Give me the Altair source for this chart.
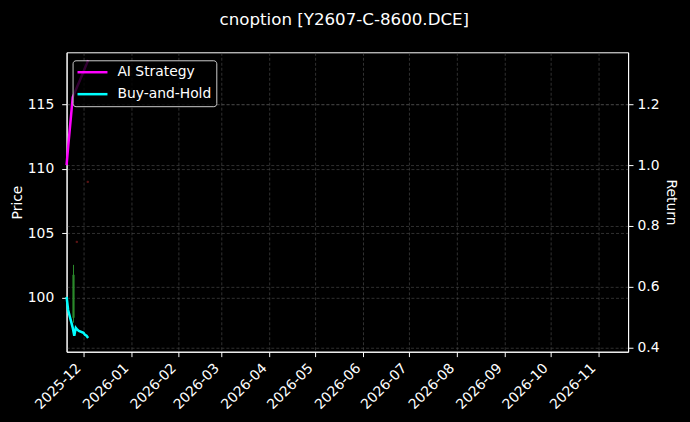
import altair as alt
import pandas as pd
import jinja2

# ---------------- data ----------------
line_dates = [
    "2025-11-20T00:00:00", "2025-11-21T00:00:00", "2025-11-24T00:00:00",
    "2025-11-25T00:00:00", "2025-11-26T00:00:00", "2025-11-27T00:00:00",
    "2025-11-28T00:00:00", "2025-12-01T00:00:00", "2025-12-02T00:00:00",
    "2025-12-03T00:00:00", "2025-12-04T00:00:00",
]
ai_strategy = [1.000, 1.059, 1.223, 1.235, 1.247, 1.259, 1.271, 1.307, 1.320, 1.332, 1.345]
buy_and_hold = [0.566, 0.523, 0.464, 0.438, 0.464, 0.458, 0.454, 0.448, 0.441, 0.438, 0.431]

candle_dates = ["2025-11-24T12:00:00", "2025-11-26T16:00:00", "2025-12-03T19:00:00"]
candle_open = [98.45, 104.40, 109.05]
candle_close = [101.78, 104.26, 108.91]
candle_high = [102.55, 104.42, 109.07]
candle_low = [98.07, 104.24, 108.89]

series_names = ["AI Strategy", "Buy-and-Hold"]
series_colors = ["#ff00ff", "#00ffff"]
price_ticks = [100, 105, 110, 115]
return_ticks = [0.4, 0.6, 0.8, 1.0, 1.2]

# ---------------- tables ----------------
n = len(line_dates)
lines_df = pd.DataFrame({
    "date": line_dates * 2,
    "series": [series_names[0]] * n + [series_names[1]] * n,
    "value": ai_strategy + buy_and_hold,
})
candles_df = pd.DataFrame({
    "date": candle_dates,
    "open": candle_open,
    "close": candle_close,
    "high": candle_high,
    "low": candle_low,
})
candles_df["dir"] = ["up" if c >= o else "down" for o, c in zip(candle_open, candle_close)]

FONT = "DejaVu Sans"
FS = 13.9

x_enc = alt.X(
    "date:T",
    title=None,
    scale=alt.Scale(
        domain=[alt.DateTime(year=2025, month=11, date=20),
                alt.DateTime(year=2026, month=11, date=20, hours=12)],
        nice=False,
    ),
    axis=alt.Axis(
        format="%Y-%m",
        tickCount={"interval": "month", "step": 1},
        labelAngle=-45,
        labelAlign="right",
        labelBaseline="middle",
        labelPadding=9,
        labelOffset=-5,
        labelOverlap=False,
        labelFlush=False,
        grid=True,
    ),
)

price_axis = alt.Axis(title="Price", values=price_ticks, orient="left",
                      grid=True, titlePadding=3, labelPadding=8)

wick = alt.Chart(candles_df).mark_rule(strokeWidth=1).encode(
    x=x_enc,
    y=alt.Y("low:Q", scale=alt.Scale(domain=[95.82, 119.02], nice=False, zero=False),
            axis=price_axis),
    y2="high:Q",
    color=alt.Color("dir:N", scale=alt.Scale(domain=["up", "down"],
                                             range=["#2a8a2a", "#5a1414"]), legend=None),
)
body = alt.Chart(candles_df).mark_rule(strokeWidth=2.2).encode(
    x=x_enc,
    y=alt.Y("open:Q", axis=price_axis),
    y2="close:Q",
    color=alt.Color("dir:N", legend=None),
)
candles = alt.layer(wick, body)

lines = alt.Chart(lines_df).mark_line(strokeWidth=2.5).encode(
    x=x_enc,
    y=alt.Y("value:Q",
            scale=alt.Scale(domain=[0.3855, 1.371], nice=False, zero=False),
            axis=alt.Axis(title="Return", values=return_ticks, format=".1f",
                          orient="right", grid=True, titlePadding=4, labelPadding=4)),
    color=alt.Color(
        "series:N",
        scale=alt.Scale(domain=series_names, range=series_colors),
        legend=alt.Legend(
            title=None, orient="none", legendX=6, legendY=8,
            symbolType="M-3,0H3", symbolSize=100, symbolStrokeWidth=2.5,
            symbolOffset=8, labelOffset=18,
            labelFontSize=FS, labelFont=FONT, labelColor="white",
            fillColor="rgba(0,0,0,0.8)", strokeColor="#cccccc", cornerRadius=3,
            padding=5, rowPadding=7,
        ),
    ),
    order="date:T",
)

chart = alt.layer(candles, lines).resolve_scale(
    y="independent", color="independent"
).properties(
    width=562.6,
    height=300,
    padding={"left": 58.7, "top": 44, "right": 54, "bottom": 62},
    autosize=alt.AutoSizeParams(type="none"),
    title=alt.TitleParams(
        "cnoption [Y2607-C-8600.DCE]", color="white", fontSize=16.7, font=FONT,
        fontWeight="normal", anchor="middle", baseline="alphabetic", offset=11,
        dx=-3, frame="group",
    ),
).configure(
    background="#000000",
).configure_view(
    stroke="#ffffff", strokeWidth=1,
).configure_axis(
    labelColor="white", titleColor="white", domainColor="white", tickColor="white",
    labelFont=FONT, titleFont=FONT, labelFontSize=FS, titleFontSize=FS,
    titleFontWeight="normal", tickSize=4.9, domainWidth=1, tickWidth=1,
    gridColor="#505050", gridDash=[3, 2], gridWidth=0.6,
)

# page template identical in loading to the standard one, with a black page background
PAGE = jinja2.Template("""<!DOCTYPE html>
<html>
<head>
  <style>
    body { background: #000000; }
    #{{ output_div }}.vega-embed { width: 100%; display: flex; }
  </style>
  <script type="text/javascript" src="{{ base_url }}/vega@{{ vega_version }}"></script>
  <script type="text/javascript" src="{{ base_url }}/vega-lite@{{ vegalite_version }}"></script>
  <script type="text/javascript" src="{{ base_url }}/vega-embed@{{ vegaembed_version }}"></script>
</head>
<body>
  <div id="{{ output_div }}"></div>
  <script>
    (function(vegaEmbed) {
      var spec = {{ spec }};
      var embedOpt = {{ embed_options }};
      vegaEmbed("#{{ output_div }}", spec, embedOpt).catch(function(e){ console.error(e); });
    })(vegaEmbed);
  </script>
</body>
</html>
""")

chart.save("out.html", embed_options={"renderer": "svg", "actions": False}, template=PAGE)
